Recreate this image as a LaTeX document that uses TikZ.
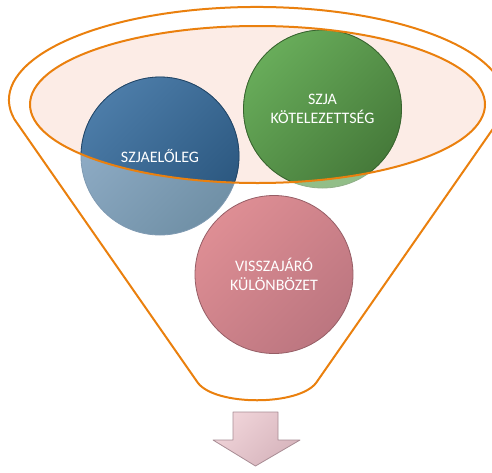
\documentclass[tikz,border=0pt]{standalone}
\usepackage{fontspec}
\newfontfamily\calfont{Carlito}
\definecolor{funnelorange}{RGB}{234,128,14}
\definecolor{mouthfill}{RGB}{252,236,230}
\definecolor{blueA}{RGB}{76,124,168}
\definecolor{blueB}{RGB}{42,86,126}
\definecolor{bluefadeA}{RGB}{146,175,201}
\definecolor{bluefadeB}{RGB}{112,144,166}
\definecolor{greenA}{RGB}{104,172,90}
\definecolor{greenB}{RGB}{70,122,58}
\definecolor{greenfade}{RGB}{146,190,136}
\definecolor{pinkA}{RGB}{222,142,148}
\definecolor{pinkB}{RGB}{188,118,128}
\definecolor{arrowA}{RGB}{240,212,217}
\definecolor{arrowB}{RGB}{214,180,188}
\definecolor{arrowline}{RGB}{168,140,148}
\tikzset{
  ball/.style={circle, minimum size=118.5pt, inner sep=0pt},
  balltext/.style={text=white, align=center, font=\calfont\fontsize{12}{14}\selectfont},
  funnel/.style={draw=funnelorange, line width=1.5pt, line join=round},
}

\begin{document}
\begin{tikzpicture}[x=0.75pt,y=0.75pt,yscale=-1,xscale=1]
\useasboundingbox (0,0) rectangle (492,472);

%Funnel outline
\draw[funnel] (14.4,119.3) arc[start angle=168, end angle=372, x radius=248, y radius=93]
  -- (316,383) .. controls (298,406) and (216,406) .. (198,383) -- cycle;

%Mouth of the funnel
\fill[mouthfill] (257.5,104.5) ellipse [x radius=227.5, y radius=78.5];

%Balls (faded part, outside the mouth)
\node[ball, shade, top color=bluefadeA, bottom color=bluefadeB, shading angle=45, draw=blueB!60, line width=0.6pt] (adv) at (160,156) {};
\node[ball, fill=greenfade, draw=greenB!60, line width=0.6pt] (tax) at (322.5,109) {};
\node[ball, shade, top color=pinkA, bottom color=pinkB, shading angle=45, draw=pinkB!80!black, line width=0.6pt] (diff) at (274,274.5) {};

%Balls (inside the mouth)
\begin{scope}
  \clip (257.5,104.5) ellipse [x radius=227.5, y radius=78.5];
  \shade[top color=blueA, bottom color=blueB, shading angle=45, draw=blueB!80!black, line width=0.6pt] (adv.center) circle [radius=79];
  \shade[top color=greenA, bottom color=greenB, shading angle=45, draw=greenB!80!black, line width=0.6pt] (tax.center) circle [radius=79];
\end{scope}
\draw[funnel] (257.5,104.5) ellipse [x radius=227.5, y radius=78.5];

%Labels
\node[balltext] at (adv) {SZJAELŐLEG};
\node[balltext] at (tax) {SZJA\\KÖTELEZETTSÉG};
\node[balltext] at (diff) {VISSZAJÁRÓ\\KÜLÖNBÖZET};

%Arrow below
\shade[top color=arrowA, bottom color=arrowB, shading angle=45, draw=arrowline, line width=0.6pt, line join=round]
  (233,412) -- (278,412) -- (278,440) -- (300,440) -- (255.5,466) -- (213,440) -- (233,440) -- cycle;

\end{tikzpicture}
\end{document}
